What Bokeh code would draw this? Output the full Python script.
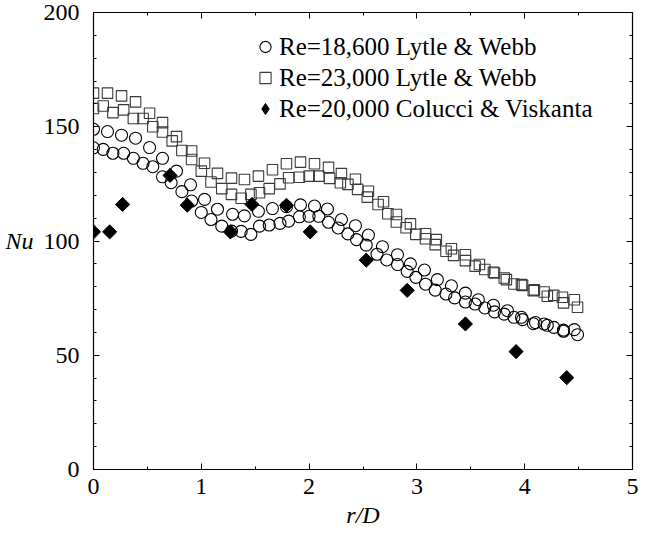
import numpy as np
from bokeh.plotting import figure
from bokeh.models import (LinearAxis, Legend, LegendItem, SingleIntervalTicker, Range1d,
                          ColumnDataSource, CustomJSTickFormatter)
from bokeh.embed import file_html
from bokeh.resources import INLINE

# Re=18,600 Lytle & Webb (two runs)
circ_run1_x = [0.00, 0.13, 0.26, 0.39, 0.52, 0.64, 0.77, 0.90, 1.03, 1.15, 1.29, 1.40, 1.53, 1.66,
               1.79, 1.92, 2.05, 2.17, 2.30, 2.43, 2.55, 2.68, 2.82, 2.94, 3.07, 3.19, 3.32, 3.45,
               3.57, 3.71, 3.84, 3.97, 4.10, 4.21, 4.36, 4.46]
circ_run1_y = [148.9, 147.9, 146.3, 145.0, 140.9, 136.2, 130.6, 124.6, 118.2, 113.9, 111.7, 111.0, 113.0, 114.2,
               115.0, 115.8, 115.3, 114.0, 109.4, 106.7, 102.6, 97.5, 94.0, 90.0, 87.3, 83.1, 80.4, 77.2,
               74.3, 71.9, 69.5, 66.6, 64.3, 63.1, 61.0, 61.2]
circ_run2_x = [0.00, 0.09, 0.18, 0.28, 0.37, 0.46, 0.55, 0.64, 0.72, 0.82, 0.91, 1.00, 1.09, 1.19,
               1.28, 1.37, 1.46, 1.54, 1.63, 1.73, 1.81, 1.91, 2.00, 2.09, 2.18, 2.27, 2.36, 2.44,
               2.53, 2.63, 2.72, 2.82, 2.91, 2.99, 3.08, 3.17, 3.27, 3.35, 3.45, 3.54, 3.63, 3.72,
               3.81, 3.90, 3.98, 4.08, 4.18, 4.27, 4.36, 4.49]
circ_run2_y = [140.8, 140.1, 138.4, 138.4, 136.2, 134.0, 132.5, 128.1, 125.5, 121.6, 117.5, 112.5, 109.4, 106.5,
               104.3, 104.2, 102.9, 106.5, 107.0, 107.7, 108.7, 110.6, 110.8, 110.8, 108.2, 105.7, 103.1, 100.6,
               98.2, 94.2, 91.7, 89.7, 86.7, 84.1, 81.1, 78.5, 76.8, 75.1, 73.3, 72.4, 70.7, 69.0,
               68.0, 66.6, 65.6, 63.8, 63.7, 62.2, 60.5, 59.0]

# Re=23,000 Lytle & Webb (two runs)
sq_run1_x = [0.00, 0.13, 0.26, 0.39, 0.52, 0.64, 0.77, 0.91, 1.03, 1.15, 1.28, 1.40, 1.53, 1.66,
             1.79, 1.92, 2.05, 2.18, 2.30, 2.43, 2.55, 2.69, 2.81, 2.94, 3.08, 3.18, 3.32, 3.45,
             3.58, 3.71, 3.81, 3.97, 4.09, 4.21, 4.35, 4.46]
sq_run1_y = [164.7, 164.7, 163.5, 160.9, 155.9, 151.8, 145.7, 139.4, 134.0, 129.6, 127.5, 126.9, 128.4, 131.2,
             133.8, 134.5, 133.8, 132.2, 129.5, 127.0, 121.8, 117.2, 111.6, 107.5, 103.2, 100.6, 96.6, 94.0,
             89.7, 86.3, 83.8, 80.9, 78.6, 75.8, 75.4, 74.3]
sq_run2_x = [0.00, 0.09, 0.18, 0.28, 0.37, 0.46, 0.55, 0.64, 0.73, 0.82, 0.91, 1.00, 1.09, 1.19,
             1.28, 1.37, 1.46, 1.54, 1.63, 1.73, 1.81, 1.91, 2.00, 2.09, 2.19, 2.29, 2.36, 2.45,
             2.54, 2.64, 2.73, 2.81, 2.90, 2.99, 3.08, 3.17, 3.27, 3.34, 3.45, 3.54, 3.63, 3.72,
             3.83, 3.90, 3.98, 4.08, 4.18, 4.27, 4.36, 4.49]
sq_run2_y = [158.0, 159.1, 156.2, 157.4, 153.6, 153.6, 150.0, 147.7, 143.8, 139.6, 135.7, 130.6, 125.8, 122.9,
             120.4, 118.7, 120.4, 121.1, 122.9, 125.0, 127.7, 127.9, 128.4, 128.4, 127.4, 125.5, 124.8, 122.6,
             119.2, 116.0, 111.9, 108.3, 105.8, 102.9, 101.0, 98.4, 95.5, 93.7, 91.4, 89.0, 87.5, 86.0,
             83.1, 81.2, 80.6, 78.3, 77.7, 76.2, 72.9, 71.0]

# Re=20,000 Colucci & Viskanta
dia_x = [0.00, 0.15, 0.27, 0.71, 0.87, 1.27, 1.47, 1.79, 2.01, 2.53, 2.91, 3.45, 3.92, 4.39]
dia_y = [104.0, 104.0, 116.0, 128.7, 115.7, 104.0, 116.0, 115.6, 104.0, 91.6, 78.4, 63.7, 51.6, 40.2]

legend_labels = ["Re=18,600 Lytle & Webb", "Re=23,000 Lytle & Webb", "Re=20,000 Colucci & Viskanta"]
x_ticks_interval = 1
y_ticks_interval = 50

FONT = "Liberation Serif"
FS = "24px"
LFS = "25px"

p = figure(width=639, height=536, output_backend="svg", toolbar_location=None,
           x_range=Range1d(0, 5), y_range=Range1d(0, 200),
           min_border_left=93, min_border_right=7, min_border_top=12, min_border_bottom=67,
           x_axis_label="r/D", y_axis_label="Nu")
p.xgrid.visible = False
p.ygrid.visible = False
p.outline_line_color = "black"
p.background_fill_color = "white"
p.border_fill_color = "white"

xt = SingleIntervalTicker(interval=x_ticks_interval, num_minor_ticks=2)
yt = SingleIntervalTicker(interval=y_ticks_interval, num_minor_ticks=5)
blank = CustomJSTickFormatter(code="return ''")


def style_axis(ax, ticker, labels=True):
    ax.ticker = ticker
    ax.axis_line_color = "black"
    ax.axis_line_width = 1.2
    ax.major_tick_line_color = "black"
    ax.minor_tick_line_color = "black"
    ax.major_tick_in = 6
    ax.major_tick_out = 0
    ax.minor_tick_in = 3
    ax.minor_tick_out = 0
    ax.major_label_text_font = FONT
    ax.major_label_text_color = "black"
    ax.major_label_text_font_size = FS
    ax.axis_label_text_font = FONT
    ax.axis_label_text_font_style = "italic"
    ax.axis_label_text_color = "black"
    ax.axis_label_text_font_size = FS
    if not labels:
        ax.formatter = blank
        ax.major_label_standoff = 0


style_axis(p.xaxis[0], xt)
style_axis(p.yaxis[0], yt)
p.xaxis[0].major_label_standoff = 9
p.xaxis[0].axis_label_standoff = 5
p.yaxis[0].major_label_standoff = 14
p.yaxis[0].axis_label_standoff = 7
p.yaxis[0].axis_label_orientation = "horizontal"

top = LinearAxis()
style_axis(top, SingleIntervalTicker(interval=x_ticks_interval, num_minor_ticks=2), labels=False)
p.add_layout(top, "above")
right = LinearAxis()
style_axis(right, SingleIntervalTicker(interval=y_ticks_interval, num_minor_ticks=5), labels=False)
p.add_layout(right, "right")

src_c = ColumnDataSource(dict(x=circ_run1_x + circ_run2_x, y=circ_run1_y + circ_run2_y))
src_s = ColumnDataSource(dict(x=sq_run1_x + sq_run2_x, y=sq_run1_y + sq_run2_y))
src_d = ColumnDataSource(dict(x=dia_x, y=dia_y))

r_s = p.scatter("x", "y", source=src_s, marker="square", size=10.5, fill_color=None,
                line_color="#3a3a3a", line_width=1.1)
r_c = p.scatter("x", "y", source=src_c, marker="circle", size=12, fill_color=None,
                line_color="black", line_width=1.1)
# legend key for the diamonds (legend swatches are drawn unrotated); hidden beneath the rotated squares
r_d_key = p.scatter("x", "y", source=src_d, marker="diamond", size=9,
                    fill_color="black", line_color="black", line_width=1)
r_d = p.scatter("x", "y", source=src_d, marker="square", angle=np.pi / 4, size=10,
                fill_color="black", line_color="black", line_width=1)

legend = Legend(items=[
    LegendItem(label=legend_labels[0], renderers=[r_c]),
    LegendItem(label=legend_labels[1], renderers=[r_s]),
    LegendItem(label=legend_labels[2], renderers=[r_d_key]),
], location=(158, 345), border_line_alpha=0, background_fill_alpha=0,
   label_text_font=FONT, label_text_font_size=LFS, label_text_color="black",
   glyph_width=28, glyph_height=31, label_height=31, label_standoff=0,
   spacing=0, padding=0, margin=0)
p.add_layout(legend)

open("out.html", "w").write(file_html(p, INLINE))
